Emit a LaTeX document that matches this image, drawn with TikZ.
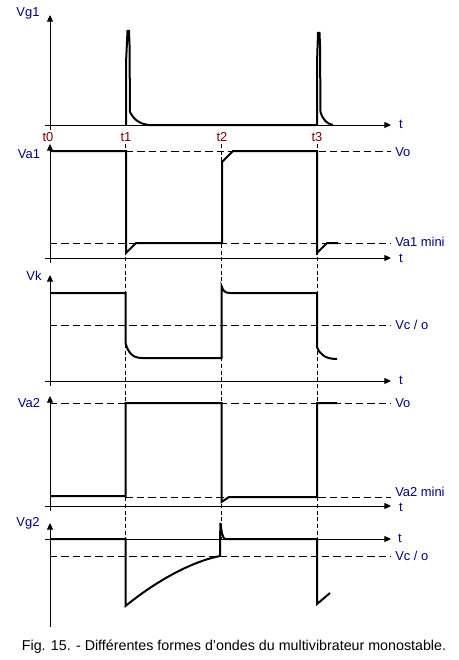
\documentclass[tikz,border=0pt]{standalone}
\usepackage{fontspec}
\setmainfont{Liberation Sans}
\usetikzlibrary{arrows.meta}
\definecolor{lblue}{RGB}{0,0,128}
\definecolor{lred}{RGB}{128,0,0}
\begin{document}
\begin{tikzpicture}[x=0.75pt,y=-0.75pt,
  sig/.style={line width=1.5pt, line join=miter},
  ax/.style={line width=0.75pt},
  axarrow/.style={ax,-{Triangle[length=5pt,width=4.5pt]}},
  hd/.style={line width=0.75pt, dash pattern=on 5.5pt off 3pt},
  vd/.style={line width=0.75pt, dash pattern=on 3pt off 2pt},
  vlab/.style={text=lblue, font=\fontsize{9.7pt}{11pt}\selectfont, inner sep=0pt},
  rlab/.style={vlab, anchor=west},
  tlab/.style={text=lred, font=\fontsize{9.7pt}{11pt}\selectfont, inner sep=0pt}]
\useasboundingbox[fill=white] (0,0) rectangle (458,660);

% ---------- time markers ----------
\node[tlab] (t0) at (48,137) {t0};
\node[tlab] (t1) at (126,137) {t1};
\node[tlab] (t2) at (222,137) {t2};
\node[tlab] (t3) at (317,137) {t3};
\draw[vd] (125.5,144) -- (125.5,539);
\draw[vd] (221.5,144) -- (221.5,539);
\draw[vd] (317,144) -- (317,539);

% ---------- Panel 1 : Vg1 ----------
\draw[axarrow] (50,130) -- (50,15);
\draw[axarrow] (45,125) -- (391,125);
\node[vlab] (vg1) at (28,13) {Vg1};
\node[vlab] (ta) at (401,124) {t};
\draw[sig] (126,125) -- (126,63) -- (127.5,31) -- (129,31) -- (129.5,45) -- (130,112)
  .. controls (134,120) and (140,124) .. (149,125) -- (317,125);
\draw[sig] (317,125) -- (317,63) -- (318,33) -- (319.5,33) -- (320,45) -- (320.5,112)
  .. controls (323,120) and (327,124) .. (333,125);

% ---------- Panel 2 : Va1 ----------
\draw[axarrow] (50,263) -- (50,144);
\draw[axarrow] (45,258) -- (391,258);
\node[vlab] (va1) at (29,154.5) {Va1};
\draw[hd] (126,151) -- (391,151);
\draw[hd] (50,243) -- (391,243);
\node[rlab] (vo1) at (395,152) {Vo};
\node[rlab] (va1m) at (395,242) {Va1 mini};
\node[vlab] (tb) at (401,258) {t};
\draw[sig] (50,151) -- (126,151) -- (126,253) -- (136,243) -- (222,243) -- (222,162) -- (233,151)
  -- (317,151) -- (317,253) -- (327,243) -- (338,243);

% ---------- Panel 3 : Vk ----------
\draw[axarrow] (50,386) -- (50,275);
\draw[axarrow] (45,381) -- (391,381);
\node[vlab] (vk) at (34,276) {Vk};
\draw[hd] (50,325) -- (391,325);
\node[rlab] (vc1) at (395,325) {Vc / o};
\node[vlab] (tc) at (401,380) {t};
\draw[sig] (50,293) -- (125.5,293) -- (125.5,343)
  .. controls (128,352) and (132,358) .. (142,358) -- (221.5,358) -- (221.5,286)
  .. controls (223,291) and (225,293) .. (230,293) -- (317,293) -- (317,347)
  .. controls (320,355) and (326,359) .. (337,359);

% ---------- Panel 4 : Va2 ----------
\draw[axarrow] (50,511) -- (50,396);
\draw[axarrow] (45,506) -- (391,506);
\node[vlab] (va2) at (29,403) {Va2};
\draw[hd] (50,403) -- (391,403);
\draw[hd] (125.5,497) -- (391,497);
\node[rlab] (vo2) at (395,403) {Vo};
\node[rlab] (va2m) at (395,492) {Va2 mini};
\node[vlab] (td) at (401,507) {t};
\draw[sig] (50,496) -- (125.5,496) -- (125.5,403) -- (221.5,403) -- (221.5,502) -- (229,497)
  -- (317,497) -- (317,403) -- (337,403);

% ---------- Panel 5 : Vg2 ----------
\draw[axarrow] (50,627) -- (50,523);
\draw[axarrow] (45,539) -- (391,539);
\node[vlab] (vg2) at (28,523.5) {Vg2};
\draw[hd] (50,556) -- (391,556);
\node[rlab] (vc2) at (395,556) {Vc / o};
\node[vlab] (te) at (400,538) {t};
\draw[sig] (50,539) -- (125.5,539) -- (125.5,606)
  .. controls (155,582) and (190,562) .. (220,556) -- (220,539) -- (220.5,523)
  .. controls (221.5,532) and (222.5,538) .. (225,539) -- (317,539) -- (317,604) -- (330,593);

% ---------- caption ----------
\node[inner sep=0pt, font=\fontsize{10.7pt}{12pt}\selectfont] (cap) at (234,647)
  {Fig. 15. - Différentes formes d'ondes du multivibrateur monostable.};
\end{tikzpicture}
\end{document}
